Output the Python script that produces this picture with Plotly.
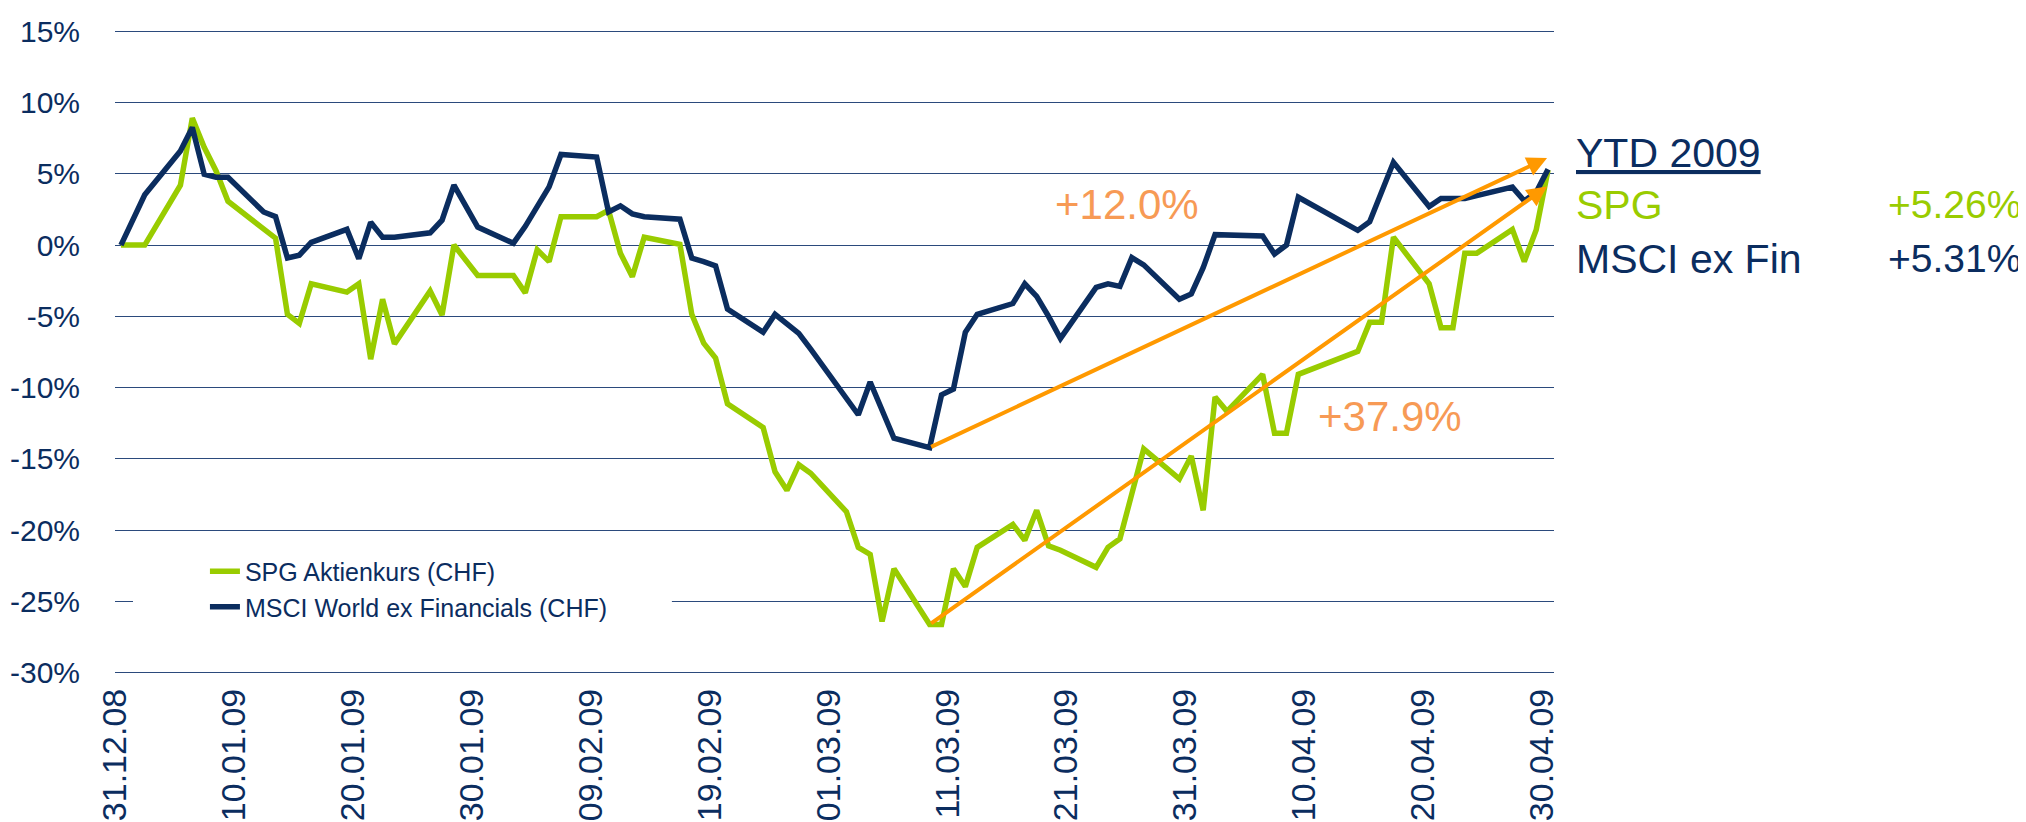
import plotly.graph_objects as go
import pandas as pd

# Trading days
dates = [
    "2008-12-31", "2009-01-02", "2009-01-05", "2009-01-06", "2009-01-07", "2009-01-08", "2009-01-09",
    "2009-01-12", "2009-01-13", "2009-01-14", "2009-01-15", "2009-01-16",
    "2009-01-19", "2009-01-20", "2009-01-21", "2009-01-22", "2009-01-23",
    "2009-01-26", "2009-01-27", "2009-01-28", "2009-01-30",
    "2009-02-02", "2009-02-03", "2009-02-04", "2009-02-05", "2009-02-06",
    "2009-02-09", "2009-02-10", "2009-02-11", "2009-02-12", "2009-02-13",
    "2009-02-16", "2009-02-17", "2009-02-18", "2009-02-19", "2009-02-20",
    "2009-02-23", "2009-02-24", "2009-02-25", "2009-02-26", "2009-02-27",
    "2009-03-02", "2009-03-03", "2009-03-04", "2009-03-05", "2009-03-06",
    "2009-03-09", "2009-03-10", "2009-03-11", "2009-03-12", "2009-03-13",
    "2009-03-16", "2009-03-17", "2009-03-18", "2009-03-19", "2009-03-20",
    "2009-03-23", "2009-03-24", "2009-03-25", "2009-03-26", "2009-03-27",
    "2009-03-30", "2009-03-31", "2009-04-01", "2009-04-02", "2009-04-03",
    "2009-04-06", "2009-04-07", "2009-04-08", "2009-04-09",
    "2009-04-14", "2009-04-15", "2009-04-16", "2009-04-17",
    "2009-04-20", "2009-04-21", "2009-04-22", "2009-04-23", "2009-04-24",
    "2009-04-27", "2009-04-28", "2009-04-29", "2009-04-30",
]

# SPG Aktienkurs (CHF), performance in %
spg = [
    0.0, 0.0, 4.2, 8.9, 6.85, 5.2, 3.07,
    1.06, 0.48, -4.86, -5.49, -2.72,
    -3.3, -2.72, -8.0, -3.8, -6.93,
    -3.22, -4.91, 0.0, -2.14,
    -2.14, -3.35, -0.33, -1.16, 1.99,
    1.99, 2.44, -0.58, -2.22, 0.55,
    0.05, -4.86, -6.88, -7.93, -11.13,
    -12.8, -15.9, -17.2, -15.4, -16.0,
    -18.7, -21.2, -21.7, -26.4, -22.7,
    -26.6, -26.6, -22.7, -23.95, -21.2,
    -19.6, -20.7, -18.6, -21.1, -21.4,
    -22.6, -21.2, -20.6, -17.45, -14.3,
    -16.4, -14.8, -18.6, -10.65, -11.66,
    -9.07, -13.2, -13.2, -9.07,
    -7.46, -5.42, -5.42, 0.55,
    -2.72, -5.8, -5.8, -0.58, -0.58,
    1.1, -1.16, 1.06, 5.26,
]

# MSCI World ex Financials (CHF), performance in %
msci = [
    0.0, 3.53, 6.6, 8.24, 4.96, 4.76, 4.76,
    2.32, 1.99, -0.91, -0.71, 0.18,
    1.1, -0.96, 1.6, 0.55, 0.55,
    0.86, 1.74, 4.2, 1.26,
    0.13, 1.31, 2.7, 4.08, 6.35,
    6.17, 2.32, 2.75, 2.19, 1.99,
    1.81, -0.91, -1.16, -1.46, -4.48,
    -6.12, -4.86, -5.57, -6.2, -7.3,
    -10.7, -11.9, -9.6, -11.6, -13.55,
    -14.2, -10.5, -10.1, -6.12, -4.86,
    -4.1, -2.72, -3.6, -5.0, -6.55,
    -2.97, -2.72, -2.9, -0.88, -1.39,
    -3.8, -3.43, -1.59, 0.73, 0.7,
    0.63, -0.63, 0.0, 3.35,
    1.03, 1.64, 3.72, 5.8,
    2.7, 3.27, 3.27, 3.27, 3.47,
    4.06, 3.1, 3.7, 5.31,
]

series_names = ["SPG Aktienkurs (CHF)", "MSCI World ex Financials (CHF)"]
ytd_labels = ["SPG", "MSCI ex Fin"]
ytd_values = ["+5.26%", "+5.31%"]
rally_labels = ["+12.0%", "+37.9%"]
rally_arrow_end = [6.1, 4.1]      # % level where each trend arrow ends
y_ticks = [15, 10, 5, 0, -5, -10, -15, -20, -25, -30]

GREEN = "#99CC00"
NAVY = "#0B2D5F"
ORANGE = "#FF9900"
ORANGE_TXT = "#F79A55"
GRID = "#2B4A7C"
FONT = "Liberation Sans, Arial, sans-serif"

x = pd.to_datetime(dates) + pd.Timedelta(hours=12)

fig = go.Figure()
fig.add_trace(go.Scatter(x=x, y=spg, mode="lines", name=series_names[0],
                         line=dict(color=GREEN, width=5.5)))
fig.add_trace(go.Scatter(x=x, y=msci, mode="lines", name=series_names[1],
                         line=dict(color=NAVY, width=5.5)))

x_range = ["2008-12-31", "2009-05-01"]
y_range = [-30.15, 15.15]
ten_days = 10 * 24 * 3600 * 1000

fig.update_layout(
    width=2026, height=822,
    margin=dict(l=107, r=480, t=21, b=155),
    paper_bgcolor="white", plot_bgcolor="white",
    showlegend=True,
    legend=dict(x=0.0625, y=0.133, xanchor="left", yanchor="middle",
                bgcolor="rgba(0,0,0,0)", tracegroupgap=0,
                font=dict(family=FONT, size=25, color=NAVY)),
    xaxis=dict(type="date", range=x_range, tick0="2008-12-31", dtick=ten_days,
               tickformat="%d.%m.%y", tickangle=-90, showgrid=False, zeroline=False,
               ticks="", showline=False, automargin=False,
               tickfont=dict(family=FONT, size=34, color=NAVY),
               ticklabelstandoff=6),
    xaxis2=dict(type="date", range=x_range, tick0="2008-12-31", dtick=ten_days,
                overlaying="x", anchor="free",
                position=(0 - y_range[0]) / (y_range[1] - y_range[0]), side="bottom",
                showticklabels=False, ticks="outside", ticklen=10, tickwidth=1.3,
                tickcolor=GRID, showline=True, linecolor=GRID, linewidth=1.5,
                showgrid=False, zeroline=False, automargin=False),
    yaxis=dict(range=y_range, tickvals=y_ticks, ticktext=[f"{v}%" for v in y_ticks],
               showgrid=True, gridcolor=GRID, gridwidth=1.3, zeroline=False,
               showline=False, ticks="", ticklabelstandoff=34, automargin=False,
               tickfont=dict(family=FONT, size=30, color=NAVY)),
)

# white box behind the legend (interrupts the -25% gridline as in the original)
fig.add_shape(type="rect", xref="paper", yref="y", x0=0.0125, x1=0.387, y0=-23.6, y1=-26.4,
              fillcolor="white", line=dict(width=0), layer="above")

# trend arrows from the March lows to the end of April
i_low = msci.index(min(msci))
j_low = spg.index(min(spg))
end_x = pd.Timestamp("2009-04-30 10:00")
for (lx, lv), yend in zip([(x[i_low], msci[i_low]), (x[j_low], spg[j_low])], rally_arrow_end):
    fig.add_annotation(x=end_x, y=yend, ax=lx, ay=lv, xref="x", yref="y", axref="x", ayref="y",
                       text="", showarrow=True, arrowhead=2, arrowsize=1.0, arrowwidth=4,
                       arrowcolor=ORANGE, standoff=0, startstandoff=0)

fig.add_annotation(x=0.703, y=0.729, xref="paper", yref="paper", text=rally_labels[0],
                   xanchor="center", yanchor="middle", showarrow=False,
                   font=dict(family=FONT, size=42, color=ORANGE_TXT))
fig.add_annotation(x=0.886, y=0.3994, xref="paper", yref="paper", text=rally_labels[1],
                   xanchor="center", yanchor="middle", showarrow=False,
                   font=dict(family=FONT, size=42, color=ORANGE_TXT))

# YTD panel
fig.add_annotation(x=1.014, y=0.808, xref="paper", yref="paper", text="<u>YTD 2009</u>",
                   xanchor="left", yanchor="middle", showarrow=False,
                   font=dict(family=FONT, size=41, color=NAVY))
for lab, val, yy, col in zip(ytd_labels, ytd_values, [0.7276, 0.644], [GREEN, NAVY]):
    fig.add_annotation(x=1.014, y=yy, xref="paper", yref="paper", text=lab,
                       xanchor="left", yanchor="middle", showarrow=False,
                       font=dict(family=FONT, size=41, color=col))
    fig.add_annotation(x=1.2305, y=yy, xref="paper", yref="paper", text=val,
                       xanchor="left", yanchor="middle", showarrow=False,
                       font=dict(family=FONT, size=39, color=col))

fig.write_html("out.html")
